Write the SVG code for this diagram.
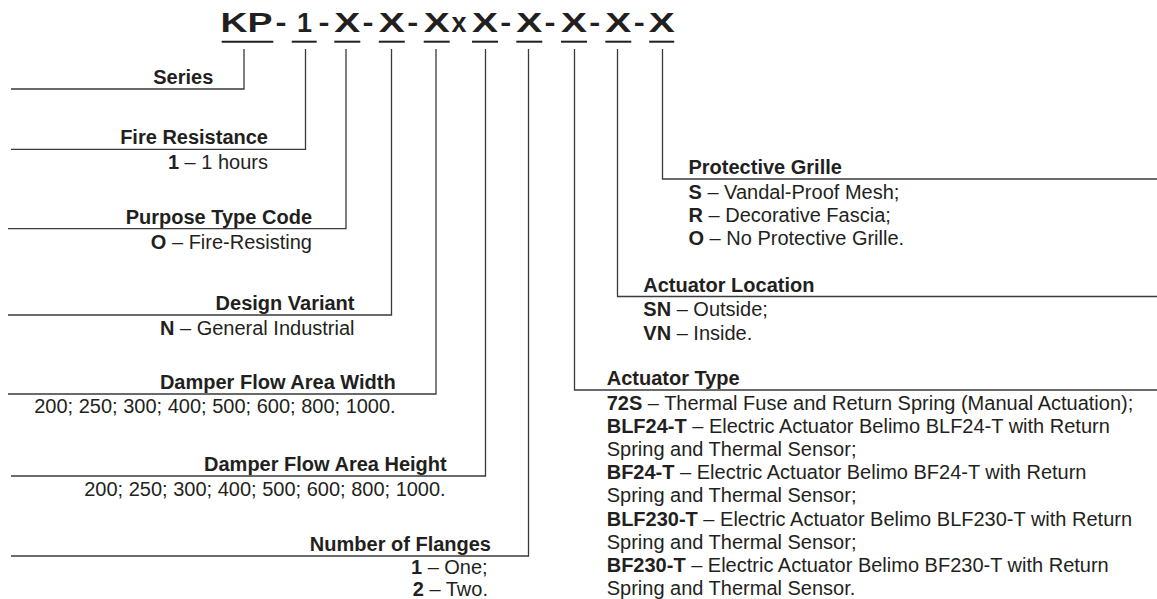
<svg xmlns="http://www.w3.org/2000/svg" width="1157" height="599" viewBox="0 0 1157 599">
<style>
text{font-family:"Liberation Sans",Arial,sans-serif;fill:#231f20;font-size:20px}
.b{font-weight:bold}
.e{text-anchor:end}
.t{font-weight:bold;font-size:27px}
.m{text-anchor:middle}
.ln{fill:none;stroke:#3a3a3a;stroke-width:1.3}
.ul{stroke:#231f20;stroke-width:2}
</style>
<rect width="1157" height="599" fill="#fff"/>
<g id="title">
<text class="t" x="220.5" y="32" textLength="52" lengthAdjust="spacingAndGlyphs">KP</text>
<text class="t m" x="281" y="32" textLength="11" lengthAdjust="spacingAndGlyphs">-</text>
<text class="t m" x="304.5" y="32">1</text>
<text class="t m" x="324" y="32" textLength="11" lengthAdjust="spacingAndGlyphs">-</text>
<text class="t m" x="347.3" y="32" textLength="26" lengthAdjust="spacingAndGlyphs">X</text>
<text class="t m" x="368" y="32" textLength="11" lengthAdjust="spacingAndGlyphs">-</text>
<text class="t m" x="391.8" y="32" textLength="26" lengthAdjust="spacingAndGlyphs">X</text>
<text class="t m" x="412.7" y="32" textLength="11" lengthAdjust="spacingAndGlyphs">-</text>
<text class="t m" x="436.7" y="32" textLength="26" lengthAdjust="spacingAndGlyphs">X</text>
<text class="t m" x="459" y="32">x</text>
<text class="t m" x="485" y="32" textLength="26" lengthAdjust="spacingAndGlyphs">X</text>
<text class="t m" x="505.8" y="32" textLength="11" lengthAdjust="spacingAndGlyphs">-</text>
<text class="t m" x="529.3" y="32" textLength="26" lengthAdjust="spacingAndGlyphs">X</text>
<text class="t m" x="550" y="32" textLength="11" lengthAdjust="spacingAndGlyphs">-</text>
<text class="t m" x="574" y="32" textLength="26" lengthAdjust="spacingAndGlyphs">X</text>
<text class="t m" x="594.8" y="32" textLength="11" lengthAdjust="spacingAndGlyphs">-</text>
<text class="t m" x="618.3" y="32" textLength="26" lengthAdjust="spacingAndGlyphs">X</text>
<text class="t m" x="639.2" y="32" textLength="11" lengthAdjust="spacingAndGlyphs">-</text>
<text class="t m" x="661.7" y="32" textLength="26" lengthAdjust="spacingAndGlyphs">X</text>
<g class="ul">
<line x1="221.7" y1="41.7" x2="273.3" y2="41.7"/>
<line x1="291.7" y1="41.7" x2="316.7" y2="41.7"/>
<line x1="334.3" y1="41.7" x2="360.3" y2="41.7"/>
<line x1="378.8" y1="41.7" x2="404.8" y2="41.7"/>
<line x1="423.7" y1="41.7" x2="449.7" y2="41.7"/>
<line x1="472" y1="41.7" x2="498" y2="41.7"/>
<line x1="516.3" y1="41.7" x2="542.3" y2="41.7"/>
<line x1="561" y1="41.7" x2="587" y2="41.7"/>
<line x1="605.3" y1="41.7" x2="631.3" y2="41.7"/>
<line x1="649.2" y1="41.7" x2="674.2" y2="41.7"/>
</g>
</g>
<g id="connectors" class="ln">
<polyline points="244,49 244,89 11,89"/>
<polyline points="305.5,49 305.5,149.3 11,149.3"/>
<polyline points="346,49 346,228.7 8,228.7"/>
<polyline points="391.5,49 391.5,315 8,315"/>
<polyline points="436,49 436,394 8,394"/>
<polyline points="485.5,49 485.5,476 11,476"/>
<polyline points="528.5,49 528.5,556 11,556"/>
<polyline points="574.5,49 574.5,390 1157,390"/>
<polyline points="617.5,49 617.5,296.5 1157,296.5"/>
<polyline points="662.5,49 662.5,179 1157,179"/>
</g>
<g id="series">
<text class="b e" x="213.3" y="84">Series</text>
</g>
<g id="fire-resistance">
<text class="b e" x="268" y="144.3">Fire Resistance</text>
<text class="e" x="268" y="169.3"><tspan class="b">1</tspan> – 1 hours</text>
</g>
<g id="purpose-type-code">
<text class="b e" x="312" y="223.7">Purpose Type Code</text>
<text class="e" x="312" y="248.7"><tspan class="b">O</tspan> – Fire-Resisting</text>
</g>
<g id="design-variant">
<text class="b e" x="354.5" y="310">Design Variant</text>
<text class="e" x="354.5" y="335"><tspan class="b">N</tspan> – General Industrial</text>
</g>
<g id="flow-area-width">
<text class="b e" x="395.7" y="389">Damper Flow Area Width</text>
<text class="e" x="395.7" y="413">200; 250; 300; 400; 500; 600; 800; 1000.</text>
</g>
<g id="flow-area-height">
<text class="b e" x="446.7" y="471">Damper Flow Area Height</text>
<text class="e" x="445.7" y="496">200; 250; 300; 400; 500; 600; 800; 1000.</text>
</g>
<g id="flanges">
<text class="b e" x="491" y="550.5">Number of Flanges</text>
<text class="e" x="487.7" y="573.5"><tspan class="b">1</tspan> – One;</text>
<text class="e" x="488" y="595.5"><tspan class="b">2</tspan> – Two.</text>
</g>
<g id="protective-grille">
<text class="b" x="688.5" y="174">Protective Grille</text>
<text x="688.5" y="198.5"><tspan class="b">S</tspan> – Vandal-Proof Mesh;</text>
<text x="688.5" y="221.8"><tspan class="b">R</tspan> – Decorative Fascia;</text>
<text x="688.5" y="245.1"><tspan class="b">O</tspan> – No Protective Grille.</text>
</g>
<g id="actuator-location">
<text class="b" x="643.3" y="291.5">Actuator Location</text>
<text x="643.3" y="316"><tspan class="b">SN</tspan> – Outside;</text>
<text x="643.3" y="339.5"><tspan class="b">VN</tspan> – Inside.</text>
</g>
<g id="actuator-type">
<text class="b" x="606.7" y="385">Actuator Type</text>
<text x="606.7" y="409.5"><tspan class="b">72S</tspan> – Thermal Fuse and Return Spring (Manual Actuation);</text>
<text x="606.7" y="432.7"><tspan class="b">BLF24-T</tspan> – Electric Actuator Belimo BLF24-T with Return</text>
<text x="606.7" y="455.9">Spring and Thermal Sensor;</text>
<text x="606.7" y="479.1"><tspan class="b">BF24-T</tspan> – Electric Actuator Belimo BF24-T with Return</text>
<text x="606.7" y="502.3">Spring and Thermal Sensor;</text>
<text x="606.7" y="525.5"><tspan class="b">BLF230-T</tspan> – Electric Actuator Belimo BLF230-T with Return</text>
<text x="606.7" y="548.7">Spring and Thermal Sensor;</text>
<text x="606.7" y="571.9"><tspan class="b">BF230-T</tspan> – Electric Actuator Belimo BF230-T with Return</text>
<text x="606.7" y="594.6">Spring and Thermal Sensor.</text>
</g>
</svg>
